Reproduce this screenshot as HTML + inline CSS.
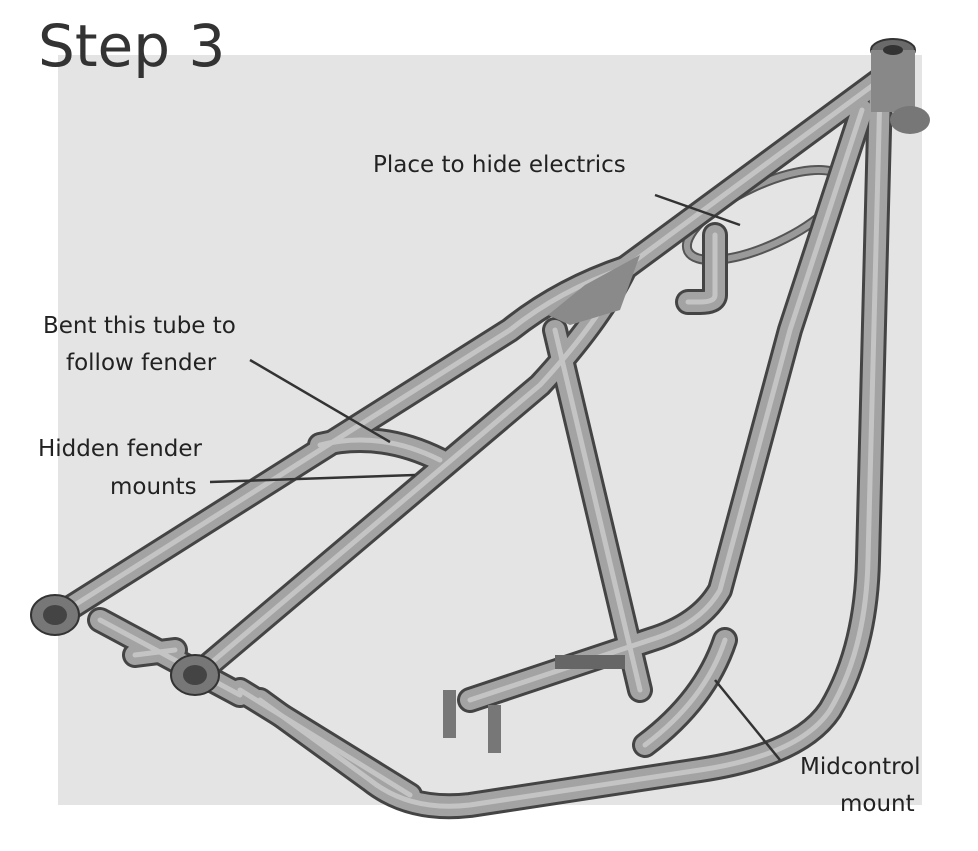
<!DOCTYPE html>
<html><head><meta charset="utf-8">
<style>
html,body{margin:0;padding:0;background:#fff;}
body{width:978px;height:851px;position:relative;overflow:hidden;font-family:"DejaVu Sans","Liberation Sans",sans-serif;}
.lbl{position:absolute;font-size:23px;color:#222;white-space:nowrap;}
</style></head><body>
<svg width="978" height="851" style="position:absolute;left:0;top:0">
<defs>
<g id="t">
<path d="M880,90 L868,560 Q866,650 830,710 Q800,755 700,770 L470,805 Q410,812 370,780 L260,700"/>
<path d="M862,110 L790,330 Q750,480 720,590 Q700,625 650,640 L470,700"/>
<path d="M880,80 L625,268"/>
<path d="M625,268 Q560,290 510,330 L70,608"/>
<path d="M625,268 Q600,320 540,385 L205,668"/>
<path d="M555,330 L640,690"/>
<path d="M100,620 L240,695"/>
<path d="M240,690 L410,795"/>
<path d="M320,445 Q380,430 440,460"/>
<path d="M725,640 Q705,700 645,745"/>
<path d="M715,235 L715,295 Q715,302 700,302 L688,302"/>
<path d="M135,655 L175,650"/>
</g>
</defs>
<rect x="58" y="55" width="864" height="750" fill="#e4e4e4"/>
<ellipse cx="765" cy="215" rx="85" ry="30" transform="rotate(-25 765 215)" fill="none" stroke="#555" stroke-width="10"/>
<ellipse cx="765" cy="215" rx="85" ry="30" transform="rotate(-25 765 215)" fill="none" stroke="#9a9a9a" stroke-width="6"/>
<g fill="none" stroke-linecap="round" stroke-linejoin="round">
<use href="#t" stroke="#444" stroke-width="26"/>
<use href="#t" stroke="#a3a3a3" stroke-width="20"/>
<use href="#t" stroke="#c4c4c4" stroke-width="5"/>
</g>
<polygon points="585,285 640,255 620,310 570,325 548,315" fill="#8a8a8a"/>
<ellipse cx="893" cy="50" rx="22" ry="11" fill="#6a6a6a" stroke="#333" stroke-width="2"/>
<rect x="871" y="50" width="44" height="62" fill="#888"/>
<ellipse cx="893" cy="50" rx="10" ry="5" fill="#333"/>
<ellipse cx="910" cy="120" rx="20" ry="14" fill="#777"/>
<ellipse cx="55" cy="615" rx="24" ry="20" fill="#777" stroke="#333" stroke-width="2"/>
<ellipse cx="55" cy="615" rx="12" ry="10" fill="#444"/>
<ellipse cx="195" cy="675" rx="24" ry="20" fill="#777" stroke="#333" stroke-width="2"/>
<ellipse cx="195" cy="675" rx="12" ry="10" fill="#444"/>
<rect x="555" y="655" width="70" height="14" fill="#666"/>
<rect x="443" y="690" width="13" height="48" fill="#777"/>
<rect x="488" y="705" width="13" height="48" fill="#777"/>
<g stroke="#333" stroke-width="2.5">
<line x1="655" y1="195" x2="740" y2="225"/>
<line x1="250" y1="360" x2="390" y2="442"/>
<line x1="210" y1="482" x2="415" y2="475"/>
<line x1="780" y1="760" x2="715" y2="680"/>
</g>
</svg>
<div class="lbl" style="left:38px;top:12px;font-size:58px;color:#333">Step 3</div>
<div class="lbl" style="left:373px;top:152px">Place to hide electrics</div>
<div class="lbl" style="left:43px;top:313px">Bent this tube to</div>
<div class="lbl" style="left:66px;top:350px">follow fender</div>
<div class="lbl" style="left:38px;top:436px">Hidden fender</div>
<div class="lbl" style="left:110px;top:474px">mounts</div>
<div class="lbl" style="left:800px;top:754px">Midcontrol</div>
<div class="lbl" style="left:840px;top:791px">mount</div>
</body></html>
